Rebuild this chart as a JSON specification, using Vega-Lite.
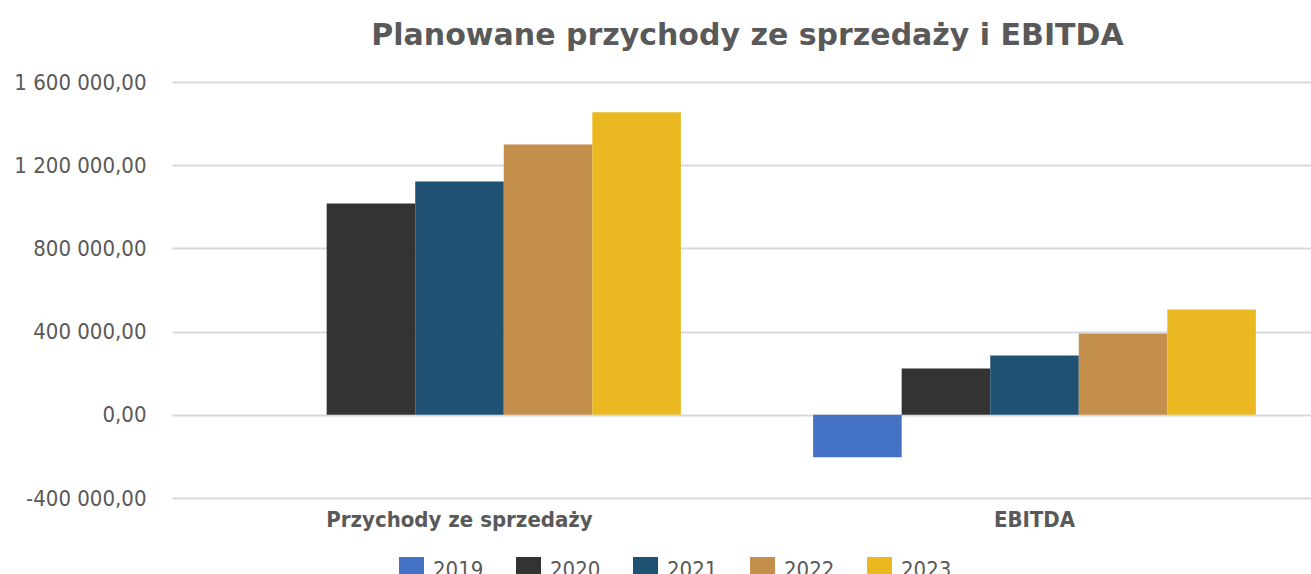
{
  "$schema": "https://vega.github.io/schema/vega-lite/v6.json",
  "autosize": {"type": "none"},
  "padding": {"left": 172, "top": 82, "right": 0, "bottom": 76},
  "width": 1139,
  "height": 416,
  "background": "white",
  "config": {
    "locale": {"number": {"decimal": ",", "thousands": " ", "grouping": [3], "currency": ["", ""], "minus": "-"}},
    "view": {"stroke": null},
    "font": "DejaVu Sans Condensed, Open Sans"
  },
  "title": {
    "text": "Planowane przychody ze sprzedaży i EBITDA",
    "font": "DejaVu Sans",
    "fontSize": 30,
    "fontWeight": "bold",
    "color": "#595959",
    "anchor": "middle",
    "frame": "group",
    "offset": 20,
    "dx": 6
  },
  "data": {
    "values": [
      {"kategoria": "Przychody ze sprzedaży", "rok": "2020", "wartosc": 1016000},
      {"kategoria": "Przychody ze sprzedaży", "rok": "2021", "wartosc": 1122000},
      {"kategoria": "Przychody ze sprzedaży", "rok": "2022", "wartosc": 1300000},
      {"kategoria": "Przychody ze sprzedaży", "rok": "2023", "wartosc": 1454000},
      {"kategoria": "EBITDA", "rok": "2019", "wartosc": -204000},
      {"kategoria": "EBITDA", "rok": "2020", "wartosc": 223000},
      {"kategoria": "EBITDA", "rok": "2021", "wartosc": 285000},
      {"kategoria": "EBITDA", "rok": "2022", "wartosc": 391000},
      {"kategoria": "EBITDA", "rok": "2023", "wartosc": 506000}
    ]
  },
  "mark": {"type": "bar"},
  "encoding": {
    "x": {
      "field": "kategoria",
      "type": "nominal",
      "sort": ["Przychody ze sprzedaży", "EBITDA"],
      "scale": {"range": [0, 1150], "paddingInner": 0.23, "paddingOuter": 0.115},
      "axis": {
        "title": null,
        "labelAngle": 0,
        "labelFontSize": 22,
        "labelFontWeight": "bold",
        "labelColor": "#595959",
        "labelPadding": 11,
        "labelLimit": 0,
        "ticks": false,
        "domain": false,
        "grid": false
      }
    },
    "xOffset": {
      "field": "rok",
      "type": "nominal",
      "sort": ["2019", "2020", "2021", "2022", "2023"],
      "scale": {"paddingInner": 0, "paddingOuter": 0}
    },
    "y": {
      "field": "wartosc",
      "type": "quantitative",
      "scale": {"domain": [-400000, 1600000], "nice": false, "zero": false},
      "axis": {
        "title": null,
        "values": [-400000, 0, 400000, 800000, 1200000, 1600000],
        "format": ",.2f",
        "labelFontSize": 22,
        "labelColor": "#595959",
        "labelPadding": 26,
        "ticks": false,
        "domain": false,
        "grid": true,
        "gridColor": "#D9D9D9",
        "gridWidth": 2
      }
    },
    "color": {
      "field": "rok",
      "type": "nominal",
      "scale": {
        "domain": ["2019", "2020", "2021", "2022", "2023"],
        "range": ["#4472C4", "#333333", "#1F5173", "#C48F4D", "#EAB820"]
      },
      "legend": {
        "title": null,
        "orient": "none",
        "direction": "horizontal",
        "legendX": 227,
        "legendY": 475,
        "symbolType": "square",
        "symbolSize": 625,
        "symbolStrokeWidth": 0,
        "labelFontSize": 22,
        "labelColor": "#595959",
        "labelOffset": 9,
        "columnPadding": 32
      }
    }
  }
}
